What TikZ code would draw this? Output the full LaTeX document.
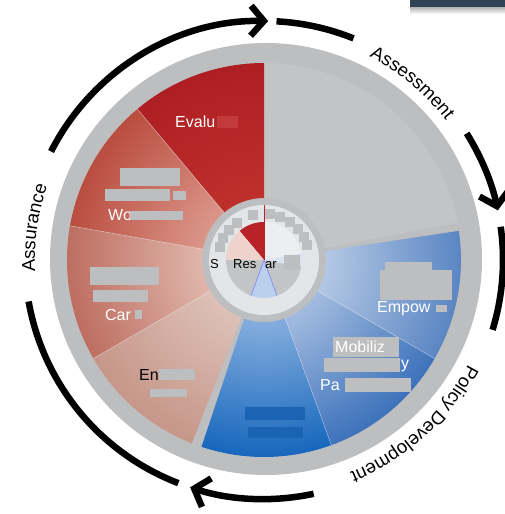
\documentclass[tikz,border=0pt]{standalone}
\usepackage{fontspec}
\setmainfont{Liberation Sans}
\usetikzlibrary{arrows.meta,decorations.text}

\definecolor{wheelgray}{HTML}{BDBEC0}
\definecolor{assessgray}{HTML}{C3C4C6}
\definecolor{hublight}{HTML}{E4E5E7}
\definecolor{evalin}{HTML}{C4382F}
\definecolor{evalout}{HTML}{AE1F24}
\definecolor{workin}{HTML}{E9B8AC}
\definecolor{workout}{HTML}{BA4D3F}
\definecolor{carein}{HTML}{F0D6CE}
\definecolor{careout}{HTML}{BD6E60}
\definecolor{enfin}{HTML}{E8D4CD}
\definecolor{enfout}{HTML}{C69689}
\definecolor{devin}{HTML}{B6CDEC}
\definecolor{devout}{HTML}{1767BD}
\definecolor{mobin}{HTML}{D0DDF0}
\definecolor{mobout}{HTML}{3D72BB}
\definecolor{empin}{HTML}{DCE5F3}
\definecolor{empout}{HTML}{5A86C3}
\definecolor{minired}{HTML}{B8232A}
\definecolor{minipink}{HTML}{EDD3CB}
\definecolor{minilight}{HTML}{ECEEF2}
\definecolor{miniblue}{HTML}{B9CFEB}
\definecolor{minilightb}{HTML}{D9E3F1}
\definecolor{redred}{HTML}{C23A3C}
\definecolor{redblue}{HTML}{1B64B3}
\definecolor{topbar}{HTML}{304357}

\tikzset{
  x=1pt,y=1pt,
  cyclearc/.style={line width=6.5pt,black},
  cycletip/.style={-{Straight Barb[length=13pt,width=30pt]}},
  cyclelbl/.style={decorate,decoration={text along path,text align=center,
      text={|\fontsize{18.5}{18.5}\selectfont|#1}}},
  seclbl/.style={font=\fontsize{16}{16}\selectfont,inner sep=0pt,anchor=base west},
  wlbl/.style={seclbl,text=white},
  hublbl/.style={font=\fontsize{13}{13}\selectfont,inner sep=0pt,anchor=base west},
  redact/.style={fill=wheelgray},
  secline/.style={white,opacity=0.45,line width=0.5pt},
}

\begin{document}
\begin{tikzpicture}
  \useasboundingbox (-264,-254) rectangle (241,260);
  % bar in the corner
  \shade[top color=gray!60,bottom color=white] (146,246) rectangle (241,253);
  \fill[topbar] (146,253) rectangle (241,260);

  % wheel
  \fill[wheelgray] (2,1) circle[radius=216];
  \foreach \s/\e in {11/50,50/90}
    \fill[assessgray] (\s:62) arc[start angle=\s,end angle=\e,radius=62]
      -- (\e:197) arc[start angle=\e,end angle=\s,radius=197] -- cycle;
  \foreach \s/\e/\ci/\co in {90/130/evalin/evalout,130/170/workin/workout,
      170/210/carein/careout,210/248.5/enfin/enfout,251.5/290/devin/devout,
      290/330/mobin/mobout,330/368.5/empin/empout}{
    \begin{scope}
      \clip (\s:62) arc[start angle=\s,end angle=\e,radius=62]
        -- (\e:197) arc[start angle=\e,end angle=\s,radius=197] -- cycle;
      \shade[inner color=\ci,outer color=\co] (0,0) circle[radius=197];
    \end{scope}
  }
  \foreach \a in {130,170,210,290,330}
    \draw[secline] (\a:62) -- (\a:197);

  % hub
  \fill[hublight] (0,0) circle[radius=55];
  \foreach \s/\e/\c in {10/90/minilight,90/130/minired,130/180/minipink,
      180/250/assessgray,250/290/miniblue,290/350/assessgray,350/370/minilightb}
    \fill[\c] (0,0) -- (\s:38) arc[start angle=\s,end angle=\e,radius=38] -- cycle;
  \draw[blue!55,line width=0.5pt] (250:38) -- (0,0) -- (290:38);
  \draw[minired,line width=0.6pt] (0,0) -- (90:55);
  \foreach \a in {104,82,70,56,43,30,19,126,139,152,163}
    \fill[redact] (\a:46) ++(-5,-5) rectangle ++(10,10);
  \node[hublbl] (s) at (-54,-8) {S};
  \node[hublbl] (res) at (-31,-8) {Res};
  \node[hublbl] (ar) at (1,-8) {ar};
  \fill[redact] (20,5) rectangle (36,-10);

  % labels
  \node[wlbl] (evalu) at (-89,132) {Evalu};
  \fill[redred] (-47,144) rectangle (-26,132);

  \fill[redact] (-144,92) rectangle (-84,74);
  \fill[redact] (-159,71) rectangle (-94,59);
  \fill[redact] (-91,69) rectangle (-78,60);
  \node[wlbl] (wo) at (-156,39) {Wo};
  \fill[redact] (-134,49) rectangle (-81,40);

  \fill[redact] (-174,-7) rectangle (-105,-25);
  \fill[redact] (-171,-30) rectangle (-116,-42);
  \node[wlbl] (car) at (-159,-60) {Car};
  \fill[redact] (-129,-50) rectangle (-122,-59);

  \node[seclbl] (en) at (-125,-120) {En};
  \fill[redact] (-105,-109) rectangle (-69,-120);
  \fill[redact] (-114,-129) rectangle (-77,-137);

  \fill[redact] (121,-2) rectangle (168,-10);
  \fill[redact] (116,-10) rectangle (188,-40);
  \node[wlbl] (empow) at (113,-52) {Empow};
  \fill[redact] (172,-45) rectangle (183,-52);

  \fill[redact] (69,-77) rectangle (135,-97);
  \node[wlbl] (mobiliz) at (71,-92) {Mobiliz};
  \fill[redact] (60,-98) rectangle (136,-112);
  \node[wlbl] (y) at (137,-108) {y};
  \node[wlbl] (pa) at (56,-130) {Pa};
  \fill[redact] (81,-118) rectangle (147,-132);

  \fill[redblue] (-19,-147) rectangle (41,-160);
  \fill[redblue] (-16,-167) rectangle (39,-178);

  % cycle round the wheel
  \draw[cyclearc,cycletip] (153:239) arc[start angle=153,end angle=89,radius=239];
  \draw[cyclearc] (87:239) arc[start angle=87,end angle=68,radius=239];
  \path[cyclelbl=Assessment] (66:229) arc[start angle=66,end angle=34,radius=229];
  \draw[cyclearc,cycletip] (32:239) arc[start angle=32,end angle=12,radius=239];
  \draw[cyclearc] (8:239) arc[start angle=8,end angle=-17,radius=239];
  \path[cyclelbl=Policy Development] (-18:229) arc[start angle=-18,end angle=-77,radius=229];
  \draw[cyclearc,cycletip] (-78:239) arc[start angle=-78,end angle=-108,radius=239];
  \draw[cyclearc] (-111:239) arc[start angle=-111,end angle=-170,radius=239];
  \path[cyclelbl=Assurance] (188:229) arc[start angle=188,end angle=156,radius=229];
\end{tikzpicture}
\end{document}
